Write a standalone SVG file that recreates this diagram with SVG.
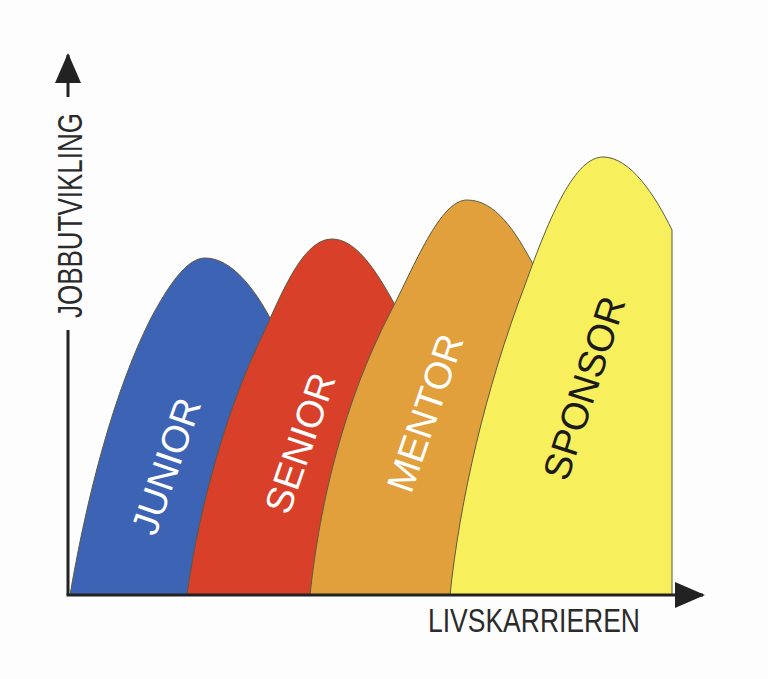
<svg xmlns="http://www.w3.org/2000/svg" width="768" height="679" viewBox="0 0 768 679">
<style>
.shape{stroke:#5b5a40;stroke-width:1}
.lbl{font-family:"Liberation Sans",Arial,sans-serif;font-size:38px;text-anchor:middle}
.axlbl{font-family:"Liberation Sans",Arial,sans-serif;font-size:35px;fill:#2b2b2b;text-anchor:middle}
.axis{stroke:#222;stroke-width:3;fill:none}
</style>
<defs>
<marker id="arr" viewBox="0 0 30 26" refX="28" refY="13" markerWidth="30" markerHeight="26" markerUnits="userSpaceOnUse" orient="auto">
<path d="M0,0 L30,13 L0,26 Z" fill="#222"/>
</marker>
</defs>
<rect width="768" height="679" fill="#fdfdfd"/>
<g id="junior">
<path class="shape" fill="#3d63b5" d="M70,595 C88,490 115,390 150,320 C170,282 188,258 205,258 C232,258 255,290 270,318 L300,400 L300,595 Z"/>
<text class="lbl" fill="#ffffff" transform="translate(166,466) rotate(-71)" dy="0.35em">JUNIOR</text>
</g>
<g id="senior">
<path class="shape" fill="#d9402a" d="M187,595 C200,500 230,400 265,330 C285,285 305,239 332,239 C355,239 375,268 395,305 L430,400 L430,595 Z"/>
<text class="lbl" fill="#ffffff" transform="translate(300,443) rotate(-71)" dy="0.35em">SENIOR</text>
</g>
<g id="mentor">
<path class="shape" fill="#e2a03c" d="M310,595 C320,500 345,400 390,313 C415,265 440,200 467,200 C495,200 515,230 535,268 L560,400 L560,595 Z"/>
<text class="lbl" fill="#ffffff" transform="translate(425,413) rotate(-71)" dy="0.35em">MENTOR</text>
</g>
<g id="sponsor">
<path class="shape" fill="#f8ef5c" d="M450,595 C460,500 485,390 525,285 C550,215 575,157 603,157 C630,157 655,195 672,230 L672,595 Z"/>
<text class="lbl" fill="#1a1a1a" transform="translate(584,388) rotate(-72)" dy="0.35em">SPONSOR</text>
</g>
<g id="connectors">
<path class="axis" d="M68,595 L68,330"/>
<path class="axis" d="M68,97 L68,55" marker-end="url(#arr)"/>
<path class="axis" d="M66.5,595 L703,595" marker-end="url(#arr)"/>
</g>
<g id="axis-labels">
<text class="axlbl" transform="translate(82,215.5) rotate(-90)" textLength="205" lengthAdjust="spacingAndGlyphs">JOBBUTVIKLING</text>
<text class="axlbl" x="534" y="632" style="font-size:34px" textLength="212" lengthAdjust="spacingAndGlyphs">LIVSKARRIEREN</text>
</g>
</svg>
